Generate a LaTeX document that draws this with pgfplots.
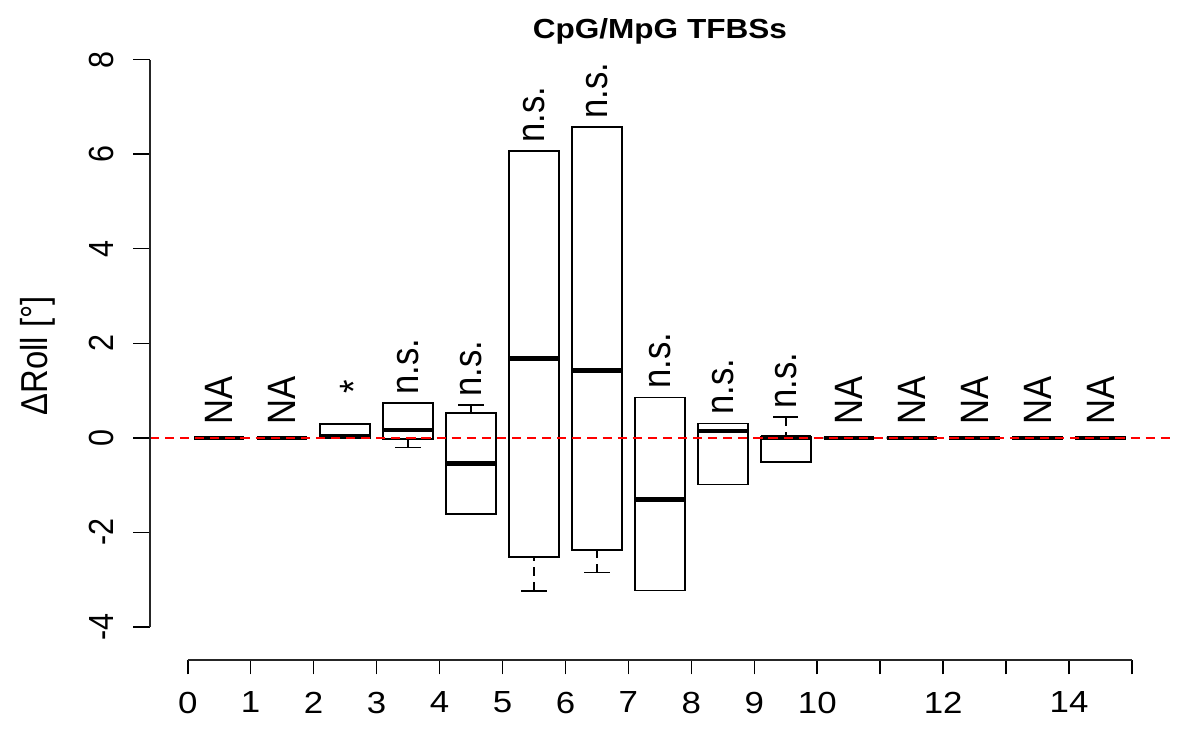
\documentclass[border=0pt]{standalone}
\usepackage{graphicx}
\usepackage{pgfplots}
\pgfplotsset{compat=1.18}
\usepgfplotslibrary{statistics}
\usepackage{fontspec}
\setmainfont{Liberation Sans}

\newcommand\tickfont{\fontsize{15.25bp}{18bp}\selectfont}
\newcommand\notefont{\fontsize{17.3bp}{20bp}\selectfont}

% R-style boxes: dashed whisker stems, solid caps
\pgfplotsset{
  rbox/.style={
    black, solid, mark=none,
    boxplot/draw direction=y,
    boxplot/box extend=0.8,
    boxplot/whisker extend=0.4,
    boxplot/every box/.style={line width=0.8bp},
    boxplot/every median/.style={line width=2.3bp},
    boxplot/every whisker/.style={line width=0.8bp},
  },
  boxplot/draw/lower whisker/.code={%
    \draw[/pgfplots/boxplot/every whisker/.try, dash pattern=on 4.5bp off 3bp]
      (boxplot box cs:\pgfplotsboxplotvalue{lower whisker},0.5)
      -- (boxplot box cs:\pgfplotsboxplotvalue{lower quartile},0.5);
    \draw[/pgfplots/boxplot/every whisker/.try]
      (boxplot whisker cs:\pgfplotsboxplotvalue{lower whisker},0)
      -- (boxplot whisker cs:\pgfplotsboxplotvalue{lower whisker},1);
  },
  boxplot/draw/upper whisker/.code={%
    \draw[/pgfplots/boxplot/every whisker/.try, dash pattern=on 4.5bp off 3bp]
      (boxplot box cs:\pgfplotsboxplotvalue{upper whisker},0.5)
      -- (boxplot box cs:\pgfplotsboxplotvalue{upper quartile},0.5);
    \draw[/pgfplots/boxplot/every whisker/.try]
      (boxplot whisker cs:\pgfplotsboxplotvalue{upper whisker},0)
      -- (boxplot whisker cs:\pgfplotsboxplotvalue{upper whisker},1);
  },
}

\begin{document}
\resizebox{600bp}{375bp}{%
\begin{tikzpicture}
\useasboundingbox (-65.6bp,-45bp) rectangle (459.4bp,330bp);
\begin{axis}[
  at={(0,0)}, anchor=south west,
  scale only axis, width=446.2bp, height=304bp,
  xmin=-0.6, xmax=15.6, ymin=-4.70, ymax=8.16,
  axis x line*=bottom, axis y line*=left,
  axis line style={draw=none},
  tick align=outside, major tick length=7.2bp,
  major tick style={black, line width=0.7bp},
  xtick={0,...,15},
  xticklabels={0,1,2,3,4,5,6,7,8,9,10,,12,,14,},
  ytick={-4,-2,...,8},
  yticklabels={-4,-2,0,2,4,6,8},
  tick label style={font=\tickfont, inner sep=0pt},
  xticklabel style={anchor=north, yshift=-8.5bp},
  yticklabel style={xshift=-8.5bp, rotate=90, anchor=south},
  clip=false,
]

% boxes, left to right
\addplot[rbox, boxplot prepared={draw position=0.5, lower whisker=0, lower quartile=0, median=0, upper quartile=0, upper whisker=0}] coordinates {};
\addplot[rbox, boxplot prepared={draw position=1.5, lower whisker=0, lower quartile=0, median=0, upper quartile=0, upper whisker=0}] coordinates {};
\addplot[rbox, boxplot prepared={draw position=2.5, lower whisker=0, lower quartile=0, median=0.04, upper quartile=0.29, upper whisker=0.29}] coordinates {};
\addplot[rbox, boxplot prepared={draw position=3.5, lower whisker=-0.205, lower quartile=-0.02, median=0.163, upper quartile=0.74, upper whisker=0.74}] coordinates {};
\addplot[rbox, boxplot prepared={draw position=4.5, lower whisker=-1.617, lower quartile=-1.617, median=-0.545, upper quartile=0.53, upper whisker=0.69}] coordinates {};
\addplot[rbox, boxplot prepared={draw position=5.5, lower whisker=-3.24, lower quartile=-2.52, median=1.676, upper quartile=6.06, upper whisker=6.06}] coordinates {};
\addplot[rbox, boxplot prepared={draw position=6.5, lower whisker=-2.85, lower quartile=-2.37, median=1.426, upper quartile=6.57, upper whisker=6.57}] coordinates {};
\addplot[rbox, boxplot prepared={draw position=7.5, lower whisker=-3.23, lower quartile=-3.23, median=-1.30, upper quartile=0.854, upper whisker=0.854}] coordinates {};
\addplot[rbox, boxplot prepared={draw position=8.5, lower whisker=-0.987, lower quartile=-0.987, median=0.144, upper quartile=0.305, upper whisker=0.305}] coordinates {};
\addplot[rbox, boxplot prepared={draw position=9.5, lower whisker=-0.51, lower quartile=-0.51, median=0.004, upper quartile=0.02, upper whisker=0.44}] coordinates {};
\addplot[rbox, boxplot prepared={draw position=10.5, lower whisker=0, lower quartile=0, median=0, upper quartile=0, upper whisker=0}] coordinates {};
\addplot[rbox, boxplot prepared={draw position=11.5, lower whisker=0, lower quartile=0, median=0, upper quartile=0, upper whisker=0}] coordinates {};
\addplot[rbox, boxplot prepared={draw position=12.5, lower whisker=0, lower quartile=0, median=0, upper quartile=0, upper whisker=0}] coordinates {};
\addplot[rbox, boxplot prepared={draw position=13.5, lower whisker=0, lower quartile=0, median=0, upper quartile=0, upper whisker=0}] coordinates {};
\addplot[rbox, boxplot prepared={draw position=14.5, lower whisker=0, lower quartile=0, median=0, upper quartile=0, upper whisker=0}] coordinates {};

% zero reference line
\addplot[red, line width=0.8bp, dash pattern=on 4bp off 2.6bp] coordinates {(-0.6,0) (15.6,0)};

% R-style axis lines, only over the tick range
\draw[black!85, line width=0.9bp] (axis cs:-0.6,-4) -- (axis cs:-0.6,8);
\draw[black!85, line width=0.9bp] (axis cs:0,-4.70) -- (axis cs:15,-4.70);

% significance notes
\begin{scope}[every node/.style={rotate=90, anchor=west, inner sep=0pt, font=\notefont}]
\node at (axis cs:0.5,0.263) {NA};
\node at (axis cs:1.5,0.263) {NA};
\node at ([xshift=3.7bp]axis cs:2.5,0.92) {*};
\node at (axis cs:3.5,0.90) {n.s.};
\node at (axis cs:4.5,0.86) {n.s.};
\node at (axis cs:5.5,6.23) {n.s.};
\node at (axis cs:6.5,6.74) {n.s.};
\node at (axis cs:7.5,1.03) {n.s.};
\node at (axis cs:8.5,0.48) {n.s.};
\node at (axis cs:9.5,0.61) {n.s.};
\node at (axis cs:10.5,0.263) {NA};
\node at (axis cs:11.5,0.263) {NA};
\node at (axis cs:12.5,0.263) {NA};
\node at (axis cs:13.5,0.263) {NA};
\node at (axis cs:14.5,0.263) {NA};
\end{scope}

\node[font=\bfseries\fontsize{13.8bp}{16bp}\selectfont, anchor=base]
  at ([yshift=6.85bp]rel axis cs:0.5,1) {CpG/MpG TFBSs};
\node[rotate=90, font=\fontsize{16.4bp}{19bp}\selectfont, anchor=center]
  at ([xshift=-49bp]rel axis cs:0,0.5) {ΔRoll [°]};
\end{axis}
\end{tikzpicture}%
}
\end{document}
